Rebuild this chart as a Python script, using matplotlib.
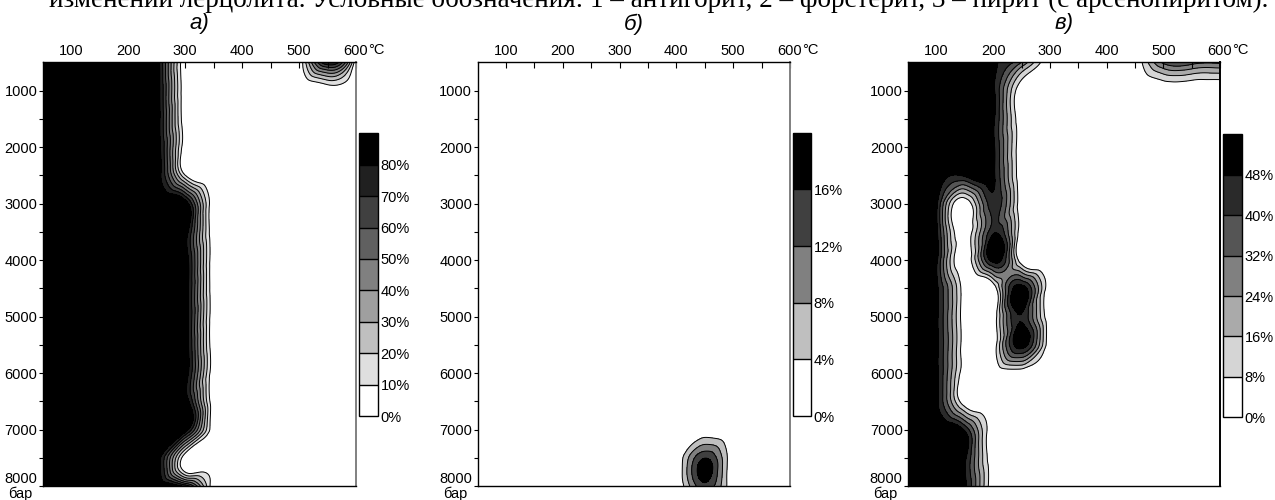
import numpy as np
import matplotlib
matplotlib.use("Agg")
import matplotlib.pyplot as plt
import matplotlib.tri as mtri
from matplotlib.colors import ListedColormap, BoundaryNorm
from matplotlib.cm import ScalarMappable

plt.rcParams['font.family'] = ['Liberation Sans', 'DejaVu Sans']

# grid nodes of the model (temperature, pressure)
temp_c = [50, 100, 150, 200, 250, 300, 350, 400, 450, 500, 550, 600]
press_bar = [500, 1000, 1500, 2000, 2500, 3000, 3500, 4000,
             4500, 5000, 5500, 6000, 6500, 7000, 7500, 8000]

# antigorite, % (rows = pressure, columns = temperature)
antigorite = [
    [88, 88, 88, 88, 88, 0, 0, 0, 0, 0, 80, 0],
    [88, 88, 88, 88, 88, 0, 0, 0, 0, 0, 0, 0],
    [88, 88, 88, 88, 88, 0, 0, 0, 0, 0, 0, 0],
    [88, 88, 88, 88, 88, 0, 0, 0, 0, 0, 0, 0],
    [88, 88, 88, 88, 88, 10, 0, 0, 0, 0, 0, 0],
    [88, 88, 88, 88, 88, 88, 0, 0, 0, 0, 0, 0],
    [88, 88, 88, 88, 88, 88, 0, 0, 0, 0, 0, 0],
    [88, 88, 88, 88, 88, 88, 0, 0, 0, 0, 0, 0],
    [88, 88, 88, 88, 88, 88, 0, 0, 0, 0, 0, 0],
    [88, 88, 88, 88, 88, 88, 0, 0, 0, 0, 0, 0],
    [88, 88, 88, 88, 88, 88, 0, 0, 0, 0, 0, 0],
    [88, 88, 88, 88, 88, 88, 0, 0, 0, 0, 0, 0],
    [88, 88, 88, 88, 88, 88, 0, 0, 0, 0, 0, 0],
    [88, 88, 88, 88, 88, 88, 0, 0, 0, 0, 0, 0],
    [88, 88, 88, 88, 88, 0, 0, 0, 0, 0, 0, 0],
    [88, 88, 88, 88, 88, 76, 0, 0, 0, 0, 0, 0],
]

# forsterite, %
forsterite = [
    [0, 0, 0, 0, 0, 0, 0, 0, 0, 0, 0, 0],
    [0, 0, 0, 0, 0, 0, 0, 0, 0, 0, 0, 0],
    [0, 0, 0, 0, 0, 0, 0, 0, 0, 0, 0, 0],
    [0, 0, 0, 0, 0, 0, 0, 0, 0, 0, 0, 0],
    [0, 0, 0, 0, 0, 0, 0, 0, 0, 0, 0, 0],
    [0, 0, 0, 0, 0, 0, 0, 0, 0, 0, 0, 0],
    [0, 0, 0, 0, 0, 0, 0, 0, 0, 0, 0, 0],
    [0, 0, 0, 0, 0, 0, 0, 0, 0, 0, 0, 0],
    [0, 0, 0, 0, 0, 0, 0, 0, 0, 0, 0, 0],
    [0, 0, 0, 0, 0, 0, 0, 0, 0, 0, 0, 0],
    [0, 0, 0, 0, 0, 0, 0, 0, 0, 0, 0, 0],
    [0, 0, 0, 0, 0, 0, 0, 0, 0, 0, 0, 0],
    [0, 0, 0, 0, 0, 0, 0, 0, 0, 0, 0, 0],
    [0, 0, 0, 0, 0, 0, 0, 0, 0, 0, 0, 0],
    [0, 0, 0, 0, 0, 0, 0, 0, 15.8, 0, 0, 0],
    [0, 0, 0, 0, 0, 0, 0, 0, 14.5, 0, 0, 0],
]

# pyrite (with arsenopyrite), %
pyrite = [
    [56, 56, 56, 50, 32, 0, 0, 0, 0, 34, 36, 34],
    [56, 56, 56, 50, 0, 0, 0, 0, 0, 0, 0, 0],
    [56, 56, 56, 50, 0, 0, 0, 0, 0, 0, 0, 0],
    [56, 56, 56, 50, 0, 0, 0, 0, 0, 0, 0, 0],
    [56, 56, 50, 50, 0, 0, 0, 0, 0, 0, 0, 0],
    [56, 50, 0, 45, 0, 0, 0, 0, 0, 0, 0, 0],
    [56, 50, 0, 46, 0, 0, 0, 0, 0, 0, 0, 0],
    [56, 50, 0, 52, 0, 0, 0, 0, 0, 0, 0, 0],
    [56, 50, 0, 0, 53, 0, 0, 0, 0, 0, 0, 0],
    [56, 50, 0, 0, 47, 0, 0, 0, 0, 0, 0, 0],
    [56, 50, 0, 0, 53, 0, 0, 0, 0, 0, 0, 0],
    [56, 50, 0, 0, 0, 0, 0, 0, 0, 0, 0, 0],
    [56, 50, 0, 0, 0, 0, 0, 0, 0, 0, 0, 0],
    [56, 56, 46, 0, 0, 0, 0, 0, 0, 0, 0, 0],
    [56, 56, 50, 0, 0, 0, 0, 0, 0, 0, 0, 0],
    [56, 56, 50, 0, 0, 0, 0, 0, 0, 0, 0, 0],
]

levels_a = [0, 10, 20, 30, 40, 50, 60, 70, 80, 90]
levels_b = [0, 4, 8, 12, 16, 20]
levels_c = [0, 8, 16, 24, 32, 40, 48, 56]

x_ticks = [100, 200, 300, 400, 500, 600]
y_ticks = [1000, 2000, 3000, 4000, 5000, 6000, 7000, 8000]

caption = ("изменений лерцолита. Условные обозначения: 1 – антигорит, "
           "2 – форстерит, 3 – пирит (с арсенопиритом).")

W, H = 1275, 500


def px_box(l, t, r, b):
    return [l / W, 1 - b / H, (r - l) / W, (b - t) / H]


def smooth_field(z):
    # node grid -> triangles, refined by matplotlib's cubic interpolator
    X, Y = np.meshgrid(temp_c, press_bar)
    nx, ny = len(temp_c), len(press_bar)
    tris = []
    for j in range(ny - 1):
        for i in range(nx - 1):
            a = j * nx + i
            tris.append([a, a + 1, a + nx])
            tris.append([a + 1, a + nx + 1, a + nx])
    tri = mtri.Triangulation(X.ravel().astype(float), Y.ravel() / 10.0, tris)
    zz = np.asarray(z, float).ravel()
    interp = mtri.CubicTriInterpolator(tri, zz, kind='min_E')
    tri_f, z_f = mtri.UniformTriRefiner(tri).refine_field(zz, triinterpolator=interp,
                                                          subdiv=4)
    return mtri.Triangulation(tri_f.x, tri_f.y * 10.0, tri_f.triangles), z_f


panels = [
    dict(z=antigorite, levels=levels_a, title='а)', ax=(43, 62.3, 356, 486),
         cax=(359.3, 133.3, 377.7, 416), rspine='#808080'),
    dict(z=forsterite, levels=levels_b, title='б)', ax=(477.7, 62.3, 790, 486),
         cax=(793.3, 132.7, 811, 416), rspine='#808080'),
    dict(z=pyrite, levels=levels_c, title='в)', ax=(908.3, 62.3, 1220, 486),
         cax=(1223.3, 134.3, 1241.7, 417.3), rspine='black'),
]

fig = plt.figure(figsize=(W / 100, H / 100), dpi=100)

for p in panels:
    levels = p['levels']
    n = len(levels) - 1
    grays = [str(1 - k / (n - 1)) for k in range(n)]
    cmap = ListedColormap(grays).with_extremes(under='white', over='black')
    norm = BoundaryNorm(levels, n)

    ax = fig.add_axes(px_box(*p['ax']))
    tri_f, z_f = smooth_field(p['z'])
    ax.tricontourf(tri_f, z_f, levels=levels, cmap=cmap, norm=norm, extend='both')
    ax.tricontour(tri_f, z_f, levels=levels[1:-1], colors='black', linewidths=0.7)

    ax.set_xlim(50, 600)
    ax.set_ylim(8000, 500)
    ax.xaxis.tick_top()
    ax.set_xticks(x_ticks)
    ax.set_xticklabels([str(v) for v in x_ticks])
    ax.set_xticks([150, 250, 350, 450, 550], minor=True)
    ax.set_yticks(y_ticks)
    ax.set_yticklabels([str(v) for v in y_ticks])
    ax.set_yticks([1500, 2500, 3500, 4500, 5500, 6500, 7500], minor=True)
    ax.tick_params(axis='x', which='both', direction='in', length=4, width=0.8,
                   labelsize=10.5, pad=3, top=True, bottom=False)
    ax.tick_params(axis='y', which='both', direction='out', length=3, width=0.8,
                   labelsize=10.5, pad=1)
    ax.get_yticklabels()[-1].set_verticalalignment('bottom')
    for s in ax.spines.values():
        s.set_linewidth(1.0)
    ax.spines['right'].set_color(p['rspine'])
    ax.spines['right'].set_linewidth(1.4)
    ax.annotate('°C', xy=(600, 500), xycoords='data', xytext=(8.7, 3.5),
                textcoords='offset points', ha='left', va='bottom', fontsize=10.5,
                annotation_clip=False)

    l, t, r, b = p['ax']
    fig.text((l + r) / 2 / W, 1 - 24 / H, p['title'], fontsize=16, style='italic',
             ha='center', va='center')
    fig.text((l - 35) / W, 1 - 494 / H, 'бар', fontsize=10.5, ha='left', va='center')

    cax = fig.add_axes(px_box(*p['cax']))
    cb = fig.colorbar(ScalarMappable(norm=norm, cmap=ListedColormap(grays)), cax=cax,
                      ticks=levels[:-1])
    cb.set_ticklabels([f'{v}%' for v in levels[:-1]])
    cb.outline.set_linewidth(1.0)
    cax.minorticks_off()
    cax.tick_params(which='both', length=0, labelsize=10.5, pad=2)
    for lv in levels[1:-1]:
        cax.axhline(lv, color='black', linewidth=1.0)

fig.text(49 / W, 1 - 7 / H, caption, family=['Liberation Serif', 'DejaVu Serif'],
         fontsize=19.5, ha='left', va='baseline')

fig.savefig('out.png', dpi=100)
